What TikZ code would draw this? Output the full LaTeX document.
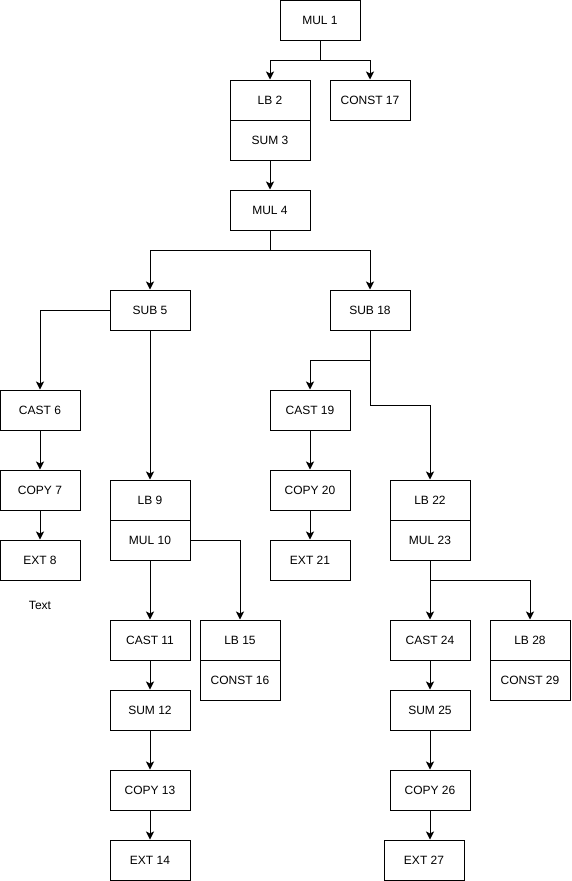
\documentclass[tikz,border=0pt]{standalone}
\usepackage{fontspec}
\setmainfont{Liberation Sans}
\usetikzlibrary{arrows.meta}
\begin{document}
\begin{tikzpicture}[x=1pt,y=-1pt,
  box/.style={draw,line width=1pt,rectangle,minimum width=80pt,minimum height=40pt,inner sep=0pt,font=\fontsize{12}{14}\selectfont},
  conn/.style={draw,line width=1pt,-{Stealth[length=8pt,width=8pt,inset=2pt]}}]
\useasboundingbox (0,0) rectangle (571,881);
\node[box] (m1) at (320,20) {MUL 1};
\node[box] (lb2) at (270,100) {LB 2};
\node[box] (sum3) at (270,140) {SUM 3};
\node[box] (c17) at (370,100) {CONST 17};
\node[box] (m4) at (270,210) {MUL 4};
\node[box] (s5) at (150,310) {SUB 5};
\node[box] (s18) at (370,310) {SUB 18};
\node[box] (c6) at (40,410) {CAST 6};
\node[box] (cp7) at (40,490) {COPY 7};
\node[box] (e8) at (40,560) {EXT 8};
\node[font=\fontsize{12}{14}\selectfont] (txt) at (40,605) {Text};
\node[box] (lb9) at (150,500) {LB 9};
\node[box] (m10) at (150,540) {MUL 10};
\node[box] (c11) at (150,640) {CAST 11};
\node[box] (s12) at (150,710) {SUM 12};
\node[box] (cp13) at (150,790) {COPY 13};
\node[box] (e14) at (150,860) {EXT 14};
\node[box] (lb15) at (240,640) {LB 15};
\node[box] (c16) at (240,680) {CONST 16};
\node[box] (c19) at (310,410) {CAST 19};
\node[box] (cp20) at (310,490) {COPY 20};
\node[box] (e21) at (310,560) {EXT 21};
\node[box] (lb22) at (430,500) {LB 22};
\node[box] (m23) at (430,540) {MUL 23};
\node[box] (c24) at (430,640) {CAST 24};
\node[box] (s25) at (430,710) {SUM 25};
\node[box] (cp26) at (430,790) {COPY 26};
\node[box] (e27) at (424,860) {EXT 27};
\node[box] (lb28) at (530,640) {LB 28};
\node[box] (c29) at (530,680) {CONST 29};
% connectors
\draw[conn] (m1.south) -- ++(0,20) -| (lb2.north);
\draw[conn] (m1.south) -- ++(0,20) -| (c17.north);
\draw[conn] (sum3.south) -- (m4.north);
\draw[conn] (m4.south) -- ++(0,20) -| (s5.north);
\draw[conn] (m4.south) -- ++(0,20) -| (s18.north);
\draw[conn] (s5.west) -| (c6.north);
\draw[conn] (s5.south) -- (lb9.north);
\draw[conn] (c6.south) -- (cp7.north);
\draw[conn] (cp7.south) -- (e8.north);
\draw[conn] (m10.south) -- (c11.north);
\draw[conn] (m10.east) -| (lb15.north);
\draw[conn] (c11.south) -- (s12.north);
\draw[conn] (s12.south) -- (cp13.north);
\draw[conn] (cp13.south) -- (e14.north);
\draw[conn] (s18.south) -- ++(0,30) -| (c19.north);
\draw[conn] (s18.south) -- ++(0,75) -| (lb22.north);
\draw[conn] (c19.south) -- (cp20.north);
\draw[conn] (cp20.south) -- (e21.north);
\draw[conn] (m23.south) -- (c24.north);
\draw[conn] (m23.south) -- ++(0,20) -| (lb28.north);
\draw[conn] (c24.south) -- (s25.north);
\draw[conn] (s25.south) -- (cp26.north);
\draw[conn] (cp26.south) -- (cp26.south |- e27.north);
\end{tikzpicture}
\end{document}
